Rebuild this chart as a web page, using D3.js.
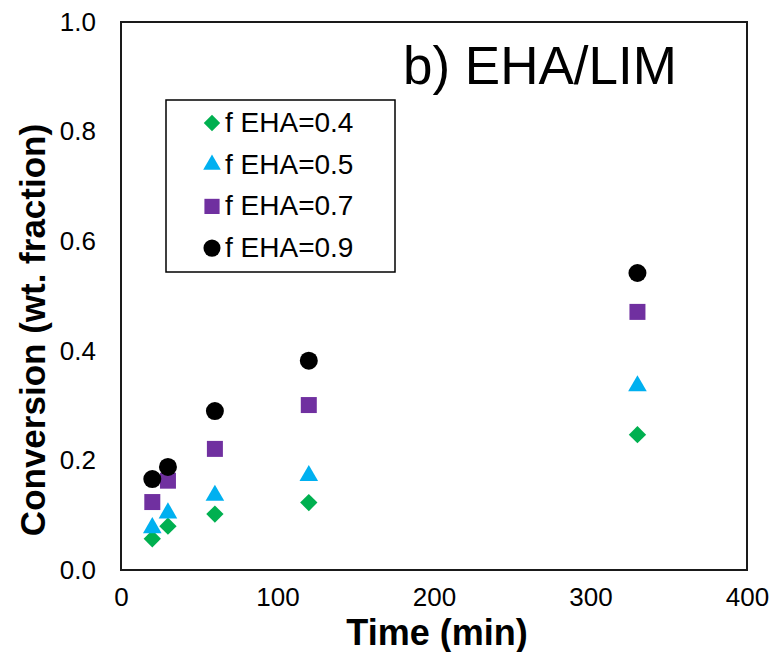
<!DOCTYPE html>
<html>
<head>
<meta charset="utf-8">
<script src="https://cdn.jsdelivr.net/npm/d3@7"></script>
<style>
  body { margin: 0; background: #fff; }
  text { font-family: "Liberation Sans", Arial, sans-serif; }
</style>
</head>
<body>
<div id="chart-area"></div>
<script>
// Data
var times = [20, 30, 60, 120, 330];
var seriesNames = ["f EHA=0.4", "f EHA=0.5", "f EHA=0.7", "f EHA=0.9"];
var conv04 = [0.057, 0.080, 0.102, 0.123, 0.247];
var conv05 = [0.077, 0.104, 0.136, 0.172, 0.336];
var conv07 = [0.124, 0.163, 0.221, 0.301, 0.471];
var conv09 = [0.166, 0.188, 0.290, 0.382, 0.542];
var xTicks = [0, 100, 200, 300, 400];
var yTicks = [0.0, 0.2, 0.4, 0.6, 0.8, 1.0];

var seriesValues = [conv04, conv05, conv07, conv09];
var colors = ["#00B050", "#00B0F0", "#7030A0", "#000000"];
// diamond = square turned by 45 degrees
var shapes = [d3.symbolSquare, d3.symbolTriangle, d3.symbolSquare, d3.symbolCircle];
var turns = [45, 0, 0, 0];
var sizes = [150, 150, 256, 254];

// SVG Size, margin convention
var margin = {top: 22, right: 26, bottom: 82, left: 121};
var width = 773 - margin.left - margin.right;
var height = 652 - margin.top - margin.bottom;

var svg = d3.select("#chart-area")
  .append("svg")
  .attr("width", 773)
  .attr("height", 652);

var g = svg.append("g")
  .attr("transform", "translate(" + margin.left + "," + margin.top + ")");

var x = d3.scaleLinear().domain([0, 400]).range([0, width]);
var y = d3.scaleLinear().domain([0, 1]).range([height, 0]);

// Axes (labels only, no tick marks)
var xAxis = d3.axisBottom(x).tickValues(xTicks).tickSize(0).tickPadding(18)
  .tickFormat(d3.format("d"));
g.append("g")
  .attr("class", "axis xAxis")
  .attr("transform", "translate(0," + height + ")")
  .call(xAxis)
  .call(function(a) { a.select(".domain").remove(); });

var yAxis = d3.axisLeft(y).tickValues(yTicks).tickSize(0).tickPadding(25)
  .tickFormat(d3.format(".1f"));
g.append("g")
  .attr("class", "axis yAxis")
  .call(yAxis)
  .call(function(a) { a.select(".domain").remove(); });

g.selectAll(".axis text")
  .attr("font-family", "Liberation Sans, Arial, sans-serif")
  .attr("font-size", 26)
  .attr("fill", "#000");

// Plot frame
g.append("rect")
  .attr("x", 0)
  .attr("y", 0)
  .attr("width", width)
  .attr("height", height)
  .attr("fill", "none")
  .attr("stroke", "#1a1a1a")
  .attr("stroke-width", 2);

// Points
seriesValues.forEach(function(vals, i) {
  g.selectAll(".pt" + i)
    .data(vals)
    .enter()
    .append("path")
    .attr("class", "pt" + i)
    .attr("d", d3.symbol().type(shapes[i]).size(sizes[i]))
    .attr("transform", function(d, j) {
      return "translate(" + x(times[j]) + "," + y(d) + ") rotate(" + turns[i] + ")";
    })
    .attr("fill", colors[i]);
});

// Title inside the plot
svg.append("text")
  .attr("x", 403)
  .attr("y", 84)
  .attr("font-size", 53)
  .text("b) EHA/LIM");

// Legend
var legend = svg.append("g").attr("transform", "translate(166,100)");
legend.append("rect")
  .attr("width", 229)
  .attr("height", 172)
  .attr("fill", "#fff")
  .attr("stroke", "#000")
  .attr("stroke-width", 1.5);

seriesNames.forEach(function(name, i) {
  var row = legend.append("g").attr("transform", "translate(0," + (23 + i * 41.7) + ")");
  row.append("path")
    .attr("d", d3.symbol().type(shapes[i]).size(sizes[i] * 0.9))
    .attr("transform", "translate(46,0) rotate(" + turns[i] + ")")
    .attr("fill", colors[i]);
  row.append("text")
    .attr("x", 59)
    .attr("y", 9)
    .attr("font-size", 28)
    .text(name);
});

// Axis titles
svg.append("text")
  .attr("x", 437)
  .attr("y", 645)
  .attr("text-anchor", "middle")
  .attr("font-size", 36)
  .attr("font-weight", "bold")
  .text("Time (min)");

svg.append("text")
  .attr("transform", "translate(45,330) rotate(-90)")
  .attr("text-anchor", "middle")
  .attr("font-size", 35)
  .attr("font-weight", "bold")
  .text("Conversion (wt. fraction)");
</script>
</body>
</html>
